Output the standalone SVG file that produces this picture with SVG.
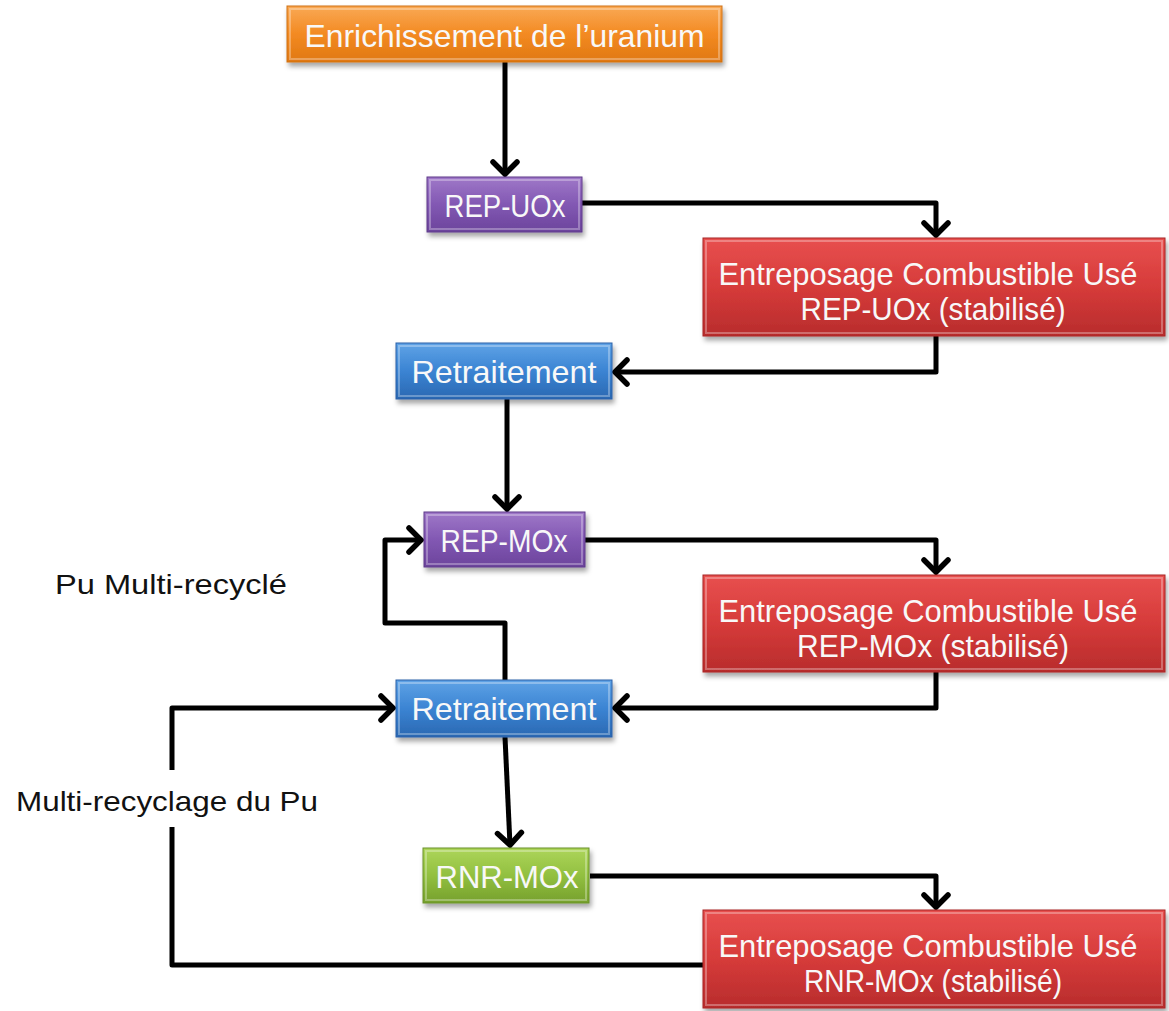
<svg xmlns="http://www.w3.org/2000/svg" width="1169" height="1011" viewBox="0 0 1169 1011">
<style>
  .box { stroke-width: 1; filter: url(#shadow); }
  .bevel { fill: none; stroke: #ffffff; stroke-opacity: 0.3; stroke-width: 2; }
  .lbl { font-family: "Liberation Sans", Arial, sans-serif; font-size: 32px; fill: #f8f8f8; text-anchor: middle; }
  .side { font-family: "Liberation Sans", Arial, sans-serif; font-size: 28px; fill: #111111; }
  .conn { fill: none; stroke: #000000; stroke-width: 5; stroke-linejoin: round; }
</style>
<defs>
  <filter id="shadow" x="-10%" y="-20%" width="120%" height="150%">
    <feDropShadow dx="2" dy="4" stdDeviation="2.5" flood-color="#000000" flood-opacity="0.35"/>
  </filter>
  <linearGradient id="gOrange" x1="0" y1="0" x2="0" y2="1">
    <stop offset="0" stop-color="#F9A955"/>
    <stop offset="0.5" stop-color="#F38A22"/>
    <stop offset="1" stop-color="#E07812"/>
  </linearGradient>
  <linearGradient id="gPurple" x1="0" y1="0" x2="0" y2="1">
    <stop offset="0" stop-color="#9F78C8"/>
    <stop offset="0.5" stop-color="#8258B3"/>
    <stop offset="1" stop-color="#6C449C"/>
  </linearGradient>
  <linearGradient id="gRed" x1="0" y1="0" x2="0" y2="1">
    <stop offset="0" stop-color="#E8504F"/>
    <stop offset="0.5" stop-color="#D63B3A"/>
    <stop offset="1" stop-color="#B82C2C"/>
  </linearGradient>
  <linearGradient id="gBlue" x1="0" y1="0" x2="0" y2="1">
    <stop offset="0" stop-color="#5FA3E6"/>
    <stop offset="0.5" stop-color="#3B84D3"/>
    <stop offset="1" stop-color="#2A68B2"/>
  </linearGradient>
  <linearGradient id="gGreen" x1="0" y1="0" x2="0" y2="1">
    <stop offset="0" stop-color="#ADD55A"/>
    <stop offset="0.5" stop-color="#92C040"/>
    <stop offset="1" stop-color="#76A02C"/>
  </linearGradient>
  <marker id="arrow" markerUnits="userSpaceOnUse" viewBox="-18 -16 22 32" refX="0" refY="0" markerWidth="22" markerHeight="32" orient="auto" overflow="visible">
    <path d="M-12,-12 L0,0 L-12,12" fill="none" stroke="#000000" stroke-width="5.5" stroke-linecap="round" stroke-linejoin="miter"/>
  </marker>
</defs>
<rect width="1169" height="1011" fill="#ffffff"/>

<g id="connectors">
  <path class="conn" d="M505,62 V174" marker-end="url(#arrow)"/>
  <path class="conn" d="M582,203 H936 V235" marker-end="url(#arrow)"/>
  <path class="conn" d="M936,336 V372 H615" marker-end="url(#arrow)"/>
  <path class="conn" d="M507,399 V509" marker-end="url(#arrow)"/>
  <path class="conn" d="M585,540 H936 V572" marker-end="url(#arrow)"/>
  <path class="conn" d="M936,672 V708 H615" marker-end="url(#arrow)"/>
  <path class="conn" d="M505,680 V623 H385 V540 H421" marker-end="url(#arrow)"/>
  <path class="conn" d="M703,965 H172 V827"/>
  <path class="conn" d="M172,770 V708 H393" marker-end="url(#arrow)"/>
  <path class="conn" d="M505,737 L510,845" marker-end="url(#arrow)"/>
  <path class="conn" d="M590,876 H936 V907" marker-end="url(#arrow)"/>
</g>

<g id="enrichissement">
  <rect class="box" x="287" y="6" width="435" height="56" fill="url(#gOrange)" stroke="#D07010"/>
  <rect class="bevel" x="290" y="9" width="429" height="50"/>
  <text class="lbl" x="504.5" y="47" textLength="400" lengthAdjust="spacingAndGlyphs">Enrichissement de l’uranium</text>
</g>

<g id="rep-uox">
  <rect class="box" x="427" y="177" width="155" height="55" fill="url(#gPurple)" stroke="#5E3A8A"/>
  <rect class="bevel" x="430" y="180" width="149" height="49"/>
  <text class="lbl" x="505" y="217" textLength="121" lengthAdjust="spacingAndGlyphs">REP-UOx</text>
</g>

<g id="entreposage-uox">
  <rect class="box" x="703" y="238" width="462" height="98" fill="url(#gRed)" stroke="#A82626"/>
  <rect class="bevel" x="706" y="241" width="456" height="92"/>
  <text class="lbl" x="928" y="285" textLength="419" lengthAdjust="spacingAndGlyphs">Entreposage Combustible Usé</text>
  <text class="lbl" x="933" y="320" textLength="265" lengthAdjust="spacingAndGlyphs">REP-UOx (stabilisé)</text>
</g>

<g id="retraitement-1">
  <rect class="box" x="396" y="343" width="216" height="56" fill="url(#gBlue)" stroke="#2A60A8"/>
  <rect class="bevel" x="399" y="346" width="210" height="50"/>
  <text class="lbl" x="504" y="383" textLength="185" lengthAdjust="spacingAndGlyphs">Retraitement</text>
</g>

<g id="rep-mox">
  <rect class="box" x="424" y="512" width="161" height="55" fill="url(#gPurple)" stroke="#5E3A8A"/>
  <rect class="bevel" x="427" y="515" width="155" height="49"/>
  <text class="lbl" x="504" y="552" textLength="127" lengthAdjust="spacingAndGlyphs">REP-MOx</text>
</g>

<g id="entreposage-mox">
  <rect class="box" x="703" y="575" width="462" height="97" fill="url(#gRed)" stroke="#A82626"/>
  <rect class="bevel" x="706" y="578" width="456" height="91"/>
  <text class="lbl" x="928" y="622" textLength="419" lengthAdjust="spacingAndGlyphs">Entreposage Combustible Usé</text>
  <text class="lbl" x="933" y="657" textLength="272" lengthAdjust="spacingAndGlyphs">REP-MOx (stabilisé)</text>
</g>

<g id="retraitement-2">
  <rect class="box" x="396" y="680" width="216" height="57" fill="url(#gBlue)" stroke="#2A60A8"/>
  <rect class="bevel" x="399" y="683" width="210" height="51"/>
  <text class="lbl" x="504" y="720" textLength="185" lengthAdjust="spacingAndGlyphs">Retraitement</text>
</g>

<g id="rnr-mox">
  <rect class="box" x="423" y="848" width="166" height="55" fill="url(#gGreen)" stroke="#6A9228"/>
  <rect class="bevel" x="426" y="851" width="160" height="49"/>
  <text class="lbl" x="507" y="888" textLength="143" lengthAdjust="spacingAndGlyphs">RNR-MOx</text>
</g>

<g id="entreposage-rnr">
  <rect class="box" x="703" y="910" width="462" height="98" fill="url(#gRed)" stroke="#A82626"/>
  <rect class="bevel" x="706" y="913" width="456" height="92"/>
  <text class="lbl" x="928" y="957" textLength="419" lengthAdjust="spacingAndGlyphs">Entreposage Combustible Usé</text>
  <text class="lbl" x="933" y="992" textLength="258" lengthAdjust="spacingAndGlyphs">RNR-MOx (stabilisé)</text>
</g>

<g id="labels">
  <text class="side" x="55" y="594" textLength="232" lengthAdjust="spacingAndGlyphs">Pu Multi-recyclé</text>
  <text class="side" x="16" y="811" textLength="302" lengthAdjust="spacingAndGlyphs">Multi-recyclage du Pu</text>
</g>
</svg>
